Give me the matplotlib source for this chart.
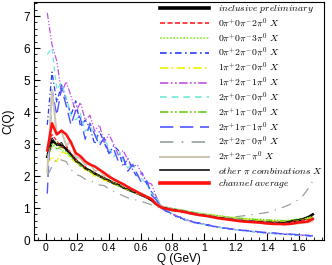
import numpy as np
import matplotlib
matplotlib.use("Agg")
import matplotlib.pyplot as plt
from matplotlib.ticker import MultipleLocator

plt.rcParams['font.family'] = ['Liberation Sans', 'DejaVu Sans']
plt.rcParams['mathtext.fontset'] = 'cm'

# bin centres in Q (GeV)
Q = np.round(np.arange(0.01, 1.70, 0.03), 2)

inclusive = [2.60, 3.10, 3.00, 2.95, 2.85, 2.65, 2.50, 2.36, 2.25, 2.16,
             2.08, 2.00, 1.93, 1.85, 1.78, 1.72, 1.65, 1.58, 1.52, 1.46,
             1.40, 1.33, 1.25, 1.12, 1.04, 1.00, 0.97, 0.94, 0.92, 0.89,
             0.86, 0.83, 0.80, 0.78, 0.76, 0.73, 0.71, 0.69, 0.67, 0.65,
             0.63, 0.61, 0.60, 0.59, 0.58, 0.57, 0.56, 0.55, 0.54, 0.54,
             0.54, 0.57, 0.60, 0.62, 0.65, 0.70, 0.80]
ch_002 = [2.90, 3.30, 3.10, 2.90, 2.95, 2.70, 2.55, 2.30, 2.30, 2.12,
          2.10, 1.98, 1.95, 1.84, 1.80, 1.70, 1.67, 1.56, 1.54, 1.44,
          1.42, 1.32, 1.27, 1.10, 1.06, 0.98, 0.99, 0.92, 0.93, 0.87,
          0.88, 0.82, 0.82, 0.77, 0.78, 0.72, 0.73, 0.68, 0.69, 0.64,
          0.65, 0.60, 0.62, 0.58, 0.60, 0.56, 0.58, 0.54, 0.56, 0.52,
          0.55, 0.54, 0.58, 0.57, 0.62, 0.64, 0.70]
ch_003 = [2.50, 2.90, 3.05, 2.80, 2.75, 2.60, 2.48, 2.40, 2.20, 2.18,
          2.02, 2.04, 1.88, 1.90, 1.76, 1.76, 1.64, 1.62, 1.52, 1.50,
          1.40, 1.37, 1.27, 1.15, 1.08, 1.03, 1.00, 0.97, 0.95, 0.93,
          0.89, 0.88, 0.84, 0.83, 0.80, 0.79, 0.76, 0.75, 0.72, 0.72,
          0.69, 0.69, 0.66, 0.67, 0.64, 0.65, 0.62, 0.63, 0.61, 0.62,
          0.60, 0.62, 0.64, 0.66, 0.68, 0.70, 0.74]
ch_020 = [3.60, 5.25, 4.30, 4.85, 4.40, 3.90, 4.35, 3.55, 3.75, 3.50,
          3.00, 3.40, 3.05, 2.70, 2.95, 2.80, 2.30, 2.55, 2.20, 1.95,
          2.10, 1.75, 1.50, 1.30, 1.02, 0.93, 0.82, 0.77, 0.68, 0.65,
          0.58, 0.56, 0.51, 0.49, 0.45, 0.43, 0.40, 0.38, 0.35, 0.34,
          0.31, 0.30, 0.28, 0.27, 0.25, 0.24, 0.22, 0.21, 0.20, 0.19,
          0.18, 0.17, 0.16, 0.15, 0.14, 0.13, 0.12]
ch_120 = [2.40, 2.60, 2.45, 2.75, 2.70, 2.55, 2.42, 2.35, 2.18, 2.12,
          2.00, 1.98, 1.86, 1.84, 1.74, 1.71, 1.62, 1.58, 1.50, 1.46,
          1.39, 1.34, 1.26, 1.12, 1.04, 1.01, 0.97, 0.95, 0.92, 0.91,
          0.87, 0.86, 0.82, 0.81, 0.78, 0.77, 0.74, 0.73, 0.70, 0.70,
          0.67, 0.67, 0.64, 0.65, 0.62, 0.63, 0.60, 0.61, 0.59, 0.60,
          0.58, 0.60, 0.62, 0.63, 0.66, 0.68, 0.72]
ch_121 = [7.10, 6.10, 5.60, 4.60, 4.95, 4.50, 4.00, 4.30, 3.75, 3.90,
          3.40, 3.60, 3.05, 3.30, 3.00, 2.65, 2.80, 2.50, 2.30, 2.35,
          2.05, 1.80, 1.75, 1.35, 1.05, 0.98, 0.84, 0.78, 0.70, 0.66,
          0.60, 0.57, 0.52, 0.50, 0.46, 0.44, 0.41, 0.39, 0.36, 0.35,
          0.32, 0.31, 0.29, 0.28, 0.26, 0.25, 0.23, 0.22, 0.21, 0.20,
          0.19, 0.18, 0.17, 0.16, 0.15, 0.15, 0.14]
ch_200 = [5.80, 6.00, 4.70, 4.90, 4.45, 3.90, 3.75, 3.95, 3.40, 3.55,
          3.35, 3.05, 3.15, 2.90, 2.60, 2.80, 2.50, 2.25, 2.40, 2.05,
          1.90, 1.75, 1.45, 1.35, 1.08, 0.95, 0.86, 0.76, 0.71, 0.64,
          0.61, 0.55, 0.53, 0.48, 0.47, 0.42, 0.41, 0.37, 0.36, 0.33,
          0.32, 0.29, 0.29, 0.26, 0.26, 0.23, 0.23, 0.21, 0.21, 0.19,
          0.19, 0.17, 0.17, 0.15, 0.15, 0.14, 0.13]
ch_210 = [2.75, 3.00, 2.85, 2.90, 2.78, 2.60, 2.46, 2.32, 2.24, 2.14,
          2.06, 1.98, 1.92, 1.84, 1.78, 1.70, 1.64, 1.57, 1.51, 1.45,
          1.39, 1.32, 1.26, 1.13, 1.05, 1.02, 0.98, 0.96, 0.93, 0.91,
          0.88, 0.86, 0.83, 0.81, 0.79, 0.77, 0.75, 0.73, 0.71, 0.70,
          0.68, 0.67, 0.66, 0.65, 0.64, 0.64, 0.63, 0.62, 0.62, 0.61,
          0.60, 0.61, 0.63, 0.64, 0.66, 0.67, 0.70]
ch_211 = [1.45, 4.70, 3.90, 4.75, 4.20, 3.60, 4.05, 3.80, 3.15, 3.65,
          3.30, 2.95, 3.20, 2.70, 2.85, 2.45, 2.60, 2.15, 2.35, 2.05,
          1.75, 1.85, 1.40, 1.25, 1.00, 0.90, 0.85, 0.74, 0.72, 0.62,
          0.62, 0.54, 0.54, 0.47, 0.48, 0.42, 0.42, 0.37, 0.37, 0.33,
          0.33, 0.30, 0.30, 0.27, 0.27, 0.24, 0.24, 0.22, 0.22, 0.20,
          0.20, 0.18, 0.18, 0.16, 0.16, 0.14, 0.13]
ch_220 = [2.00, 2.30, 2.55, 2.50, 2.45, 2.20, 2.05, 2.00, 1.90, 1.85,
          1.80, 1.72, 1.70, 1.60, 1.52, 1.45, 1.38, 1.32, 1.28, 1.24,
          1.20, 1.15, 1.10, 1.04, 0.98, 0.95, 0.92, 0.89, 0.86, 0.84,
          0.81, 0.79, 0.77, 0.75, 0.73, 0.71, 0.70, 0.70, 0.71, 0.72,
          0.73, 0.75, 0.77, 0.79, 0.81, 0.83, 0.85, 0.88, 0.93, 0.98,
          1.04, 1.10, 1.18, 1.26, 1.40, 1.60, 1.85]
ch_221 = [2.10, 4.70, 3.30, 3.40, 2.95, 3.10, 2.60, 2.55, 2.35, 2.40,
          2.15, 2.20, 2.00, 2.05, 1.85, 1.82, 1.72, 1.62, 1.58, 1.48,
          1.45, 1.36, 1.30, 1.15, 1.05, 1.02, 0.98, 0.94, 0.93, 0.89,
          0.87, 0.84, 0.81, 0.79, 0.76, 0.74, 0.71, 0.70, 0.67, 0.66,
          0.63, 0.62, 0.60, 0.59, 0.57, 0.56, 0.55, 0.54, 0.53, 0.52,
          0.51, 0.50, 0.51, 0.52, 0.54, 0.55, 0.60]
other = [2.70, 3.20, 2.95, 3.05, 2.80, 2.70, 2.45, 2.40, 2.22, 2.20,
         2.05, 2.02, 1.90, 1.88, 1.75, 1.74, 1.62, 1.60, 1.50, 1.48,
         1.38, 1.35, 1.24, 1.14, 1.03, 1.01, 0.96, 0.95, 0.91, 0.90,
         0.85, 0.84, 0.79, 0.79, 0.75, 0.74, 0.70, 0.70, 0.66, 0.66,
         0.62, 0.62, 0.59, 0.60, 0.57, 0.58, 0.55, 0.56, 0.53, 0.55,
         0.55, 0.58, 0.62, 0.64, 0.68, 0.74, 0.82]
channel_avg = [2.80, 3.65, 3.30, 3.42, 3.30, 3.05, 2.72, 2.62, 2.46, 2.36,
               2.30, 2.20, 2.10, 1.98, 1.90, 1.82, 1.75, 1.66, 1.58, 1.50,
               1.42, 1.35, 1.28, 1.12, 1.02, 0.98, 0.95, 0.92, 0.90, 0.87,
               0.84, 0.81, 0.78, 0.76, 0.74, 0.71, 0.68, 0.66, 0.64, 0.62,
               0.60, 0.58, 0.57, 0.56, 0.55, 0.54, 0.52, 0.51, 0.50, 0.50,
               0.49, 0.50, 0.52, 0.55, 0.56, 0.58, 0.66]

labels = [
    r'$\mathit{inclusive\ preliminary}$',
    r'$0\pi^{+}0\pi^{-}2\pi^{0}\ X$',
    r'$0\pi^{+}0\pi^{-}3\pi^{0}\ X$',
    r'$0\pi^{+}2\pi^{-}0\pi^{0}\ X$',
    r'$1\pi^{+}2\pi^{-}0\pi^{0}\ X$',
    r'$1\pi^{+}2\pi^{-}1\pi^{0}\ X$',
    r'$2\pi^{+}0\pi^{-}0\pi^{0}\ X$',
    r'$2\pi^{+}1\pi^{-}0\pi^{0}\ X$',
    r'$2\pi^{+}1\pi^{-}1\pi^{0}\ X$',
    r'$2\pi^{+}2\pi^{-}0\pi^{0}\ X$',
    r'$2\pi^{+}2\pi^{-}\pi^{0}\ X$',
    r'$\mathit{other}\ \pi\ \mathit{combinations}\ X$',
    r'$\mathit{channel\ average}$',
]


def main():
    fig = plt.figure(figsize=(3.32, 2.65), dpi=100)
    ax = fig.add_axes([0.1024, 0.0943, 0.8736, 0.8982])

    # (values, colour, linestyle, linewidth)
    series = [
        (inclusive, 'black', '-', 1.8),
        (ch_002, '#ff2020', (0, (3, 1.5)), 0.9),
        (ch_003, '#88ee22', (0, (1, 1)), 1.0),
        (ch_020, '#2a3cff', (0, (4, 2, 1, 2)), 0.9),
        (ch_120, '#f0f000', (0, (5, 2, 1, 2)), 0.9),
        (ch_121, '#c050e8', (0, (5, 1.5, 1, 1.5, 1, 1.5)), 0.9),
        (ch_200, '#70e8d8', (0, (4, 3)), 0.9),
        (ch_210, '#66cc11', (0, (5, 1.5, 1, 1.5, 1, 1.5)), 0.9),
        (ch_211, '#4f55ff', (0, (8, 4)), 1.0),
        (ch_220, '#99a0a0', (0, (8, 5, 1, 5)), 0.9),
        (ch_221, '#ccc6b0', '-', 1.4),
        (other, '#111111', '-', 0.7),
        (channel_avg, '#ff1010', '-', 1.8),
    ]
    for (vals, col, ls, lw), lab in zip(series, labels):
        ax.plot(Q, vals, color=col, linestyle=ls, linewidth=lw, label=lab)

    ax.set_xlim(-0.074, 1.761)
    ax.set_ylim(0, 7.44)
    ax.xaxis.set_major_locator(MultipleLocator(0.2))
    ax.xaxis.set_minor_locator(MultipleLocator(0.05))
    ax.yaxis.set_major_locator(MultipleLocator(1))
    ax.yaxis.set_minor_locator(MultipleLocator(0.2))
    ax.set_xticks([0, 0.2, 0.4, 0.6, 0.8, 1.0, 1.2, 1.4, 1.6])
    ax.set_xticklabels(['0', '0.2', '0.4', '0.6', '0.8', '1', '1.2', '1.4', '1.6'])
    ax.tick_params(axis='both', which='both', direction='in', top=False, right=False)
    ax.tick_params(axis='x', which='major', length=5, labelsize=7.5, pad=2)
    ax.tick_params(axis='x', which='minor', length=2.5)
    ax.tick_params(axis='y', which='major', length=4.5, labelsize=8.5, pad=3)
    ax.tick_params(axis='y', which='minor', length=2.5)
    for sp in ax.spines.values():
        sp.set_linewidth(0.8)

    ax.set_xlabel('Q (GeV)', fontsize=8.5, labelpad=0)
    ax.set_ylabel('C(Q)', fontsize=8.5, labelpad=6)

    leg = ax.legend(loc='upper right', bbox_to_anchor=(1.0, 1.0), frameon=False,
                    fontsize=7, handlelength=5.1, handletextpad=0.9,
                    labelspacing=0.18, borderpad=0.1, borderaxespad=0.0)
    # thicker sample lines in the legend, like the original
    for line in leg.get_lines():
        line.set_linewidth(max(line.get_linewidth(), 1.2))
    leg.get_lines()[0].set_linewidth(2.6)
    leg.get_lines()[-1].set_linewidth(2.6)

    fig.savefig('out.png', dpi=100)


if __name__ == "__main__":
    main()
